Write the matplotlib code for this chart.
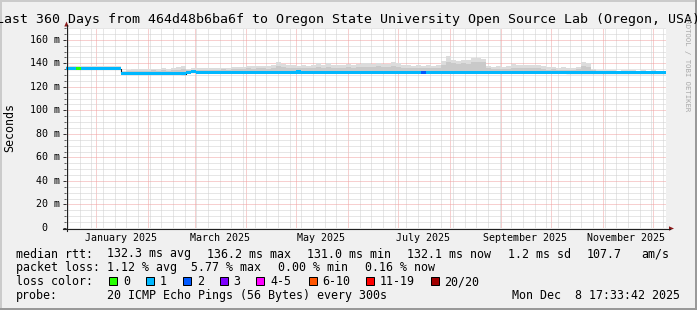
import datetime as dt

import numpy as np
import matplotlib
matplotlib.use('Agg')
from matplotlib import pyplot as plt
from matplotlib import dates as mdates
from matplotlib import ticker
from matplotlib import transforms
from matplotlib.patches import Rectangle, Polygon
from matplotlib.lines import Line2D

# ------------------------------------------------------------------------------
# Data (3 day bins)
# ------------------------------------------------------------------------------
t_end = dt.datetime(2025, 12, 8, 17, 33, 42)
t_start = t_end - dt.timedelta(days=360)
bin_days = 3

median_ms = [
    135.5, 135.5, 135.5, 135.5, 135.5, 135.5, 135.5, 135.5, 135.5, 135.5,
    135.5, 131.4, 131.4, 131.4, 131.4, 131.4, 131.4, 131.4, 131.4, 131.4,
    131.4, 131.4, 131.4, 131.1, 132.3, 133.0, 132.3, 132.3, 132.3, 132.3,
    132.3, 132.3, 132.3, 132.3, 132.3, 132.3, 132.3, 132.3, 132.3, 132.3,
    132.3, 132.3, 132.3, 132.3, 132.3, 132.3, 132.6, 132.3, 132.3, 132.3,
    132.3, 132.3, 132.3, 132.3, 132.3, 132.3, 132.3, 132.3, 132.3, 132.3,
    132.3, 132.3, 132.3, 132.3, 132.3, 132.3, 132.3, 132.3, 132.3, 132.3,
    132.3, 132.4, 132.3, 132.3, 132.3, 132.3, 132.3, 132.3, 132.3, 132.3,
    132.3, 132.3, 132.3, 132.3, 132.3, 132.3, 132.3, 132.3, 132.3, 132.3,
    132.3, 132.3, 132.3, 132.3, 132.3, 132.3, 132.3, 132.3, 132.3, 132.3,
    132.0, 132.1, 132.1, 132.1, 132.1, 132.1, 132.1, 132.1, 132.1, 132.1,
    132.1, 132.1, 132.1, 132.1, 132.1, 132.1, 132.1, 132.1, 132.1, 132.1,
]

# denser part of the smoke
smoke_mid_ms = [
    136.8, 137.0, 136.6, 136.9, 136.8, 137.0, 136.7, 136.9, 137.0, 136.8,
    136.6, 132.9, 133.2, 133.6, 133.8, 133.4, 133.7, 133.9, 133.5, 134.0,
    133.8, 134.1, 134.6, 135.4, 134.0, 134.4, 134.2, 134.5, 134.1, 134.6,
    134.5, 134.8, 134.6, 134.9, 135.3, 135.0, 135.6, 135.4, 135.7, 135.8,
    135.5, 135.9, 137.8, 136.6, 135.8, 136.0, 135.7, 136.0, 135.6, 136.1,
    137.2, 136.0, 137.0, 136.2, 136.1, 136.2, 136.5, 136.2, 136.8, 137.0,
    137.2, 136.9, 137.3, 136.6, 136.9, 137.8, 137.0, 136.2, 136.4, 136.0,
    136.3, 135.9, 136.2, 135.8, 136.1, 138.2, 141.2, 140.0, 139.6, 140.2,
    139.8, 141.0, 141.4, 141.0, 135.6, 135.2, 135.4, 135.0, 135.3, 136.4,
    136.0, 136.1, 135.9, 136.2, 135.8, 135.3, 134.6, 134.8, 134.4, 134.7,
    134.3, 134.5, 134.9, 137.4, 137.0, 133.9, 133.4, 133.3, 133.6, 133.3,
    133.2, 133.5, 133.2, 133.3, 133.2, 133.4, 133.1, 133.2, 133.0, 133.1,
]

# outer edge of the smoke
smoke_hi_ms = [
    137.8, 138.0, 137.6, 137.9, 137.7, 138.1, 137.6, 137.8, 138.0, 137.7,
    137.5, 133.5, 134.0, 135.0, 135.3, 134.8, 135.2, 135.5, 135.0, 135.6,
    135.3, 135.8, 136.5, 137.3, 135.5, 136.0, 135.8, 136.0, 135.6, 136.2,
    136.0, 136.4, 136.0, 136.5, 137.2, 136.6, 137.8, 137.4, 137.8, 138.0,
    137.6, 138.3, 141.2, 139.5, 138.2, 138.6, 138.0, 138.4, 137.8, 138.5,
    140.6, 138.4, 140.2, 138.8, 138.5, 138.6, 139.0, 138.6, 139.5, 140.0,
    140.2, 139.8, 140.4, 139.2, 139.6, 141.3, 140.0, 138.2, 138.6, 138.0,
    138.4, 137.9, 138.3, 137.8, 138.2, 141.6, 145.9, 142.8, 142.2, 143.0,
    142.4, 144.2, 144.6, 144.0, 137.8, 137.2, 137.5, 137.0, 137.4, 139.5,
    138.6, 138.8, 138.4, 138.9, 138.2, 137.4, 136.5, 136.8, 136.2, 136.6,
    136.0, 136.4, 137.0, 141.0, 140.6, 135.2, 134.2, 134.0, 134.5, 134.0,
    133.8, 134.2, 133.9, 134.0, 133.8, 134.1, 133.7, 133.9, 133.6, 133.8,
]

# index into loss_colors for each bin
loss_level = [
    1, 1, 0, 1, 1, 1, 1, 1, 1, 1,
    1, 1, 1, 1, 1, 1, 1, 1, 1, 1,
    1, 1, 1, 1, 1, 1, 1, 1, 1, 1,
    1, 1, 1, 1, 1, 1, 1, 1, 1, 1,
    1, 1, 1, 1, 1, 1, 1, 1, 1, 1,
    1, 1, 1, 1, 1, 1, 1, 1, 1, 1,
    1, 1, 1, 1, 1, 1, 1, 1, 1, 1,
    1, 2, 1, 1, 1, 1, 1, 1, 1, 1,
    1, 1, 1, 1, 1, 1, 1, 1, 1, 1,
    1, 1, 1, 1, 1, 1, 1, 1, 1, 1,
    1, 1, 1, 1, 1, 1, 1, 1, 1, 1,
    1, 1, 1, 1, 1, 1, 1, 1, 1, 1,
]

loss_labels = ['0', '1', '2', '3', '4-5', '6-10', '11-19', '20/20']
loss_colors = ['#26ff00', '#00b8ff', '#0059ff', '#7e00ff',
               '#ff00ff', '#ff5500', '#ff0000', '#a10000']

y_tick_values = [0, 20, 40, 60, 80, 100, 120, 140, 160]
y_tick_labels = ['0', '20 m', '40 m', '60 m', '80 m', '100 m', '120 m',
                 '140 m', '160 m']

month_labels = ['January 2025', 'March 2025', 'May 2025', 'July 2025',
                'September 2025', 'November 2025']
month_label_dates = [dt.datetime(2025, 1, 16), dt.datetime(2025, 3, 16),
                     dt.datetime(2025, 5, 16), dt.datetime(2025, 7, 16),
                     dt.datetime(2025, 9, 15), dt.datetime(2025, 11, 15)]

title = ('Last 360 Days from 464d48b6ba6f to Oregon State University '
         'Open Source Lab (Oregon, USA)')
rtt_row = [('median rtt:', 16), ('132.3 ms avg', 107.3), ('136.2 ms max', 207.3),
           ('131.0 ms min', 307.3), ('132.1 ms now', 407.3),
           ('1.2 ms sd', 507.7), ('107.7', 586.5), ('am/s', 641.7)]
loss_row = [('packet loss:', 16), ('1.12 % avg', 107.3), ('5.77 % max', 191.5),
            ('0.00 % min', 278.5), ('0.16 % now', 365)]
probe_text = '20 ICMP Echo Pings (56 Bytes) every 300s'
stamp_text = 'Mon Dec  8 17:33:42 2025'

# ------------------------------------------------------------------------------
# Plotting
# ------------------------------------------------------------------------------
W, H = 697, 310
MONO = 'DejaVu Sans Mono'
plt.rcParams['font.family'] = MONO


def fx(x):
    return x / W


def fy(y):
    return 1 - y / H


fig = plt.figure(figsize=(W / 100, H / 100), dpi=100)
fig.patch.set_facecolor('#f0f0f0')
ax = fig.add_axes([fx(66), fy(228), 600 / W, 200 / H])
ax.set_facecolor('white')

edges = mdates.date2num([t_start + dt.timedelta(days=bin_days * i)
                         for i in range(len(median_ms) + 1)])
med = np.array(median_ms)
med_ext = np.append(med, med[-1])
hi_ext = np.append(smoke_hi_ms, smoke_hi_ms[-1])
mid_ext = np.append(smoke_mid_ms, smoke_mid_ms[-1])

ax.fill_between(edges, med_ext, hi_ext, step='post', color='#dcdcdc', lw=0, zorder=2)
ax.fill_between(edges, med_ext, mid_ext, step='post', color='#c9c9c9', lw=0, zorder=2)
ax.step(edges, med_ext, where='post', color='#202020', lw=0.8, zorder=3)

band = 1.3
lv = np.array(loss_level)
start = 0
for i in range(1, len(lv) + 1):
    if i == len(lv) or lv[i] != lv[start]:
        seg = np.append(med[start:i], med[i - 1])
        ax.fill_between(edges[start:i + 1], seg - band, seg + band, step='post',
                        color=loss_colors[lv[start]], lw=0, zorder=4)
        start = i

ax.set_xlim(edges[0], mdates.date2num(t_end))
ax.set_ylim(0, 170)
ax.xaxis.set_major_locator(mdates.MonthLocator())
ax.xaxis.set_minor_locator(mdates.WeekdayLocator(byweekday=mdates.SU))
ax.yaxis.set_major_locator(ticker.FixedLocator(y_tick_values))
ax.yaxis.set_minor_locator(ticker.MultipleLocator(5))
ax.set_axisbelow(True)
ax.grid(which='minor', color='#cfcfcf', lw=0.72, ls=(0, (1, 1)))
ax.grid(which='major', color='#f0a0a0', lw=0.72, ls=(0, (1, 1)))
ax.tick_params(axis='x', which='both', length=0, labelbottom=False)
ax.tick_params(axis='y', which='major', length=2.2, width=0.7, color='#303030',
               labelleft=False)
ax.tick_params(axis='y', which='minor', length=1.4, width=0.7, color='#606060')
for s in ax.spines.values():
    s.set_visible(False)

# tick labels
ytrans = transforms.blended_transform_factory(fig.transFigure, ax.transData)
for v, lab in zip(y_tick_values, y_tick_labels):
    xr = 59.5 if lab != '0' else 47.5
    ax.text(fx(xr), v, lab, transform=ytrans, ha='right', va='center',
            fontsize=7.2, family=MONO)
xtrans = transforms.blended_transform_factory(ax.transData, fig.transFigure)
for d, lab in zip(month_label_dates, month_labels):
    ax.text(mdates.date2num(d), fy(240.7), lab, transform=xtrans, ha='center',
            va='baseline', fontsize=7.2, family=MONO)

# axis lines + arrows
axis_col = '#202020'
fig.add_artist(Line2D([fx(66.5), fx(66.5)], [fy(231), fy(25)], color=axis_col, lw=0.8))
fig.add_artist(Line2D([fx(63), fx(670)], [fy(228.5), fy(228.5)], color=axis_col, lw=0.8))
arrow_col = '#8b1a1a'
fig.add_artist(Polygon([[fx(64.3), fy(26.5)], [fx(68.7), fy(26.5)], [fx(66.5), fy(21.5)]],
                       closed=True, color=arrow_col, lw=0))
fig.add_artist(Polygon([[fx(669), fy(226.3)], [fx(669), fy(230.7)], [fx(674), fy(228.5)]],
                       closed=True, color=arrow_col, lw=0))

# title, labels, watermark
fig.text(fx(348.5), fy(23.5), title, ha='center', va='baseline', fontsize=9.5)
fig.text(fx(10), fy(127), 'Seconds', rotation=90, ha='center', va='center', fontsize=8.4)
fig.text(fx(687.5), fy(63), 'RRDTOOL / TOBI OETIKER', rotation=270, ha='center',
         va='center', fontsize=5.2, color='#a8a8a8')

# legend
for txt, x in rtt_row:
    fig.text(fx(x), fy(257.5), txt, ha='left', va='baseline', fontsize=8.4)
for txt, x in loss_row:
    fig.text(fx(x), fy(271.3), txt, ha='left', va='baseline', fontsize=8.4)
fig.text(fx(16), fy(285.2), 'loss color:', ha='left', va='baseline', fontsize=8.4)
square_x = [109, 146, 183, 219.5, 256, 308.5, 366, 430.5]
for sx, lab, col in zip(square_x, loss_labels, loss_colors):
    fig.add_artist(Rectangle((fx(sx), fy(285)), 8 / W, 8 / H, facecolor=col,
                             edgecolor='black', lw=0.72))
    fig.text(fx(sx + 14), fy(285.2), lab, ha='left', va='baseline', fontsize=8.4)
fig.text(fx(16), fy(299), 'probe:', ha='left', va='baseline', fontsize=8.4)
fig.text(fx(107.3), fy(299), probe_text, ha='left', va='baseline', fontsize=8.4)
fig.text(fx(680.5), fy(299), stamp_text, ha='right', va='baseline', fontsize=8.4)

# image frame
fig.add_artist(Rectangle((0, fy(2)), 1, 2 / H, color='#cbcbcb', lw=0))
fig.add_artist(Rectangle((0, 0), 2 / W, 1, color='#cbcbcb', lw=0))
fig.add_artist(Rectangle((0, 0), 1, 2 / H, color='#999999', lw=0))
fig.add_artist(Rectangle((fx(695), 0), 2 / W, 1, color='#999999', lw=0))

plt.savefig('out.png', dpi=100, facecolor=fig.get_facecolor())
